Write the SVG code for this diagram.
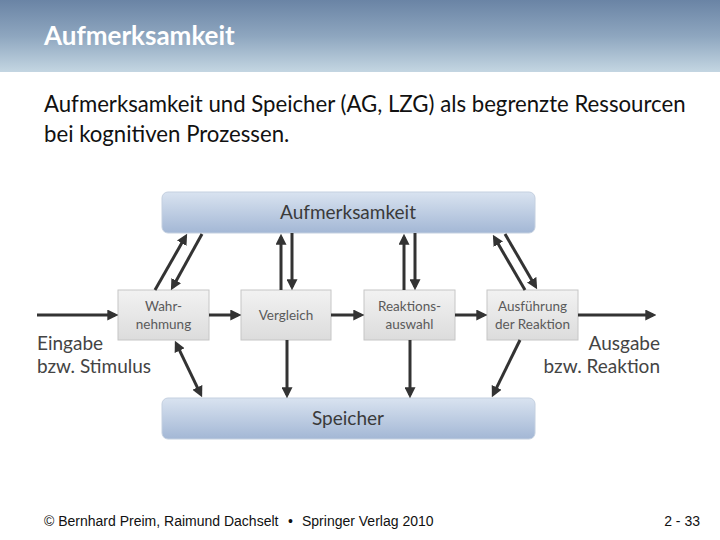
<svg xmlns="http://www.w3.org/2000/svg" width="720" height="540" viewBox="0 0 720 540">
<defs>
<linearGradient id="hdr" x1="0" y1="0" x2="0" y2="1">
<stop offset="0" stop-color="#6a84a5"/>
<stop offset="0.5" stop-color="#8ea6bf"/>
<stop offset="1" stop-color="#c4d6e2"/>
</linearGradient>
<linearGradient id="bigbox" x1="0" y1="0" x2="0" y2="1">
<stop offset="0" stop-color="#d9e3f0"/>
<stop offset="1" stop-color="#a3b7d5"/>
</linearGradient>
<linearGradient id="smallbox" x1="0" y1="0" x2="0" y2="1">
<stop offset="0" stop-color="#f2f2f2"/>
<stop offset="1" stop-color="#dcdcdc"/>
</linearGradient>
<marker id="ah" viewBox="0 0 10 10" refX="7" refY="5" markerWidth="11" markerHeight="11" markerUnits="userSpaceOnUse" orient="auto-start-reverse">
<path d="M0,0 L10,5 L0,10 z" fill="#333"/>
</marker>
</defs>
<style>
.title{font-family:Lato,"Open Sans",sans-serif;font-size:26px;font-weight:bold;fill:#fff}
.body{font-family:Lato,"Open Sans",sans-serif;font-size:22.2px;fill:#111}
.big{fill:url(#bigbox);stroke:#c4d0e0;stroke-width:1}
.bigt{font-family:Lato,"Open Sans",sans-serif;font-size:19px;fill:#3a3a3a;text-anchor:middle}
.sm{fill:url(#smallbox);stroke:#c6c6c6;stroke-width:1}
.smt{font-family:Lato,"Open Sans",sans-serif;font-size:13.5px;fill:#5a5a5a;text-anchor:middle}
.lbl{font-family:Lato,"Open Sans",sans-serif;font-size:19px;fill:#444}
.foot{font-family:"Liberation Sans",Arial,sans-serif;font-size:14px;fill:#111}
.c{stroke:#333;stroke-width:3;fill:none;marker-end:url(#ah)}
.cb{stroke:#333;stroke-width:3;fill:none;marker-end:url(#ah);marker-start:url(#ah)}
</style>
<rect x="0" y="0" width="720" height="72" fill="url(#hdr)"/>
<text class="title" x="44" y="45">Aufmerksamkeit</text>
<text class="body" x="44" y="112">Aufmerksamkeit und Speicher (AG, LZG) als begrenzte Ressourcen</text>
<text class="body" x="44" y="142">bei kognitiven Prozessen.</text>

<g id="aufmerksamkeit">
<rect class="big" x="162" y="192" width="373" height="41" rx="6"/>
<text class="bigt" x="348" y="219">Aufmerksamkeit</text>
</g>
<g id="speicher">
<rect class="big" x="162" y="398" width="373" height="41" rx="6"/>
<text class="bigt" x="348" y="425">Speicher</text>
</g>
<g id="wahrnehmung">
<rect class="sm" x="118" y="290" width="91" height="50"/>
<text class="smt" x="163.5" y="311">Wahr-</text>
<text class="smt" x="163.5" y="329">nehmung</text>
</g>
<g id="vergleich">
<rect class="sm" x="241" y="290" width="90" height="50"/>
<text class="smt" x="286" y="320">Vergleich</text>
</g>
<g id="reaktionsauswahl">
<rect class="sm" x="364" y="290" width="91" height="50"/>
<text class="smt" x="409.5" y="311">Reaktions-</text>
<text class="smt" x="409.5" y="329">auswahl</text>
</g>
<g id="ausfuehrung">
<rect class="sm" x="487" y="290" width="91" height="50"/>
<text class="smt" x="532.5" y="311">Ausführung</text>
<text class="smt" x="532.5" y="329">der Reaktion</text>
</g>
<g id="eingabe">
<text class="lbl" x="37" y="350">Eingabe</text>
<text class="lbl" x="37" y="373">bzw. Stimulus</text>
</g>
<g id="ausgabe">
<text class="lbl" x="660" y="350" text-anchor="end">Ausgabe</text>
<text class="lbl" x="660" y="373" text-anchor="end">bzw. Reaktion</text>
</g>

<g id="connectors">
<line class="c" x1="37" y1="315" x2="115" y2="315"/>
<line class="c" x1="209" y1="315" x2="238" y2="315"/>
<line class="c" x1="331" y1="315" x2="361" y2="315"/>
<line class="c" x1="455" y1="315" x2="484" y2="315"/>
<line class="c" x1="578" y1="315" x2="653" y2="315"/>

<line class="c" x1="155" y1="290" x2="185.5" y2="236.6"/>
<line class="c" x1="202" y1="234" x2="172.5" y2="287.4"/>
<line class="c" x1="281" y1="290" x2="281" y2="237"/>
<line class="c" x1="292" y1="233" x2="292" y2="287"/>
<line class="c" x1="404" y1="290" x2="404" y2="237"/>
<line class="c" x1="415" y1="233" x2="415" y2="287"/>
<line class="c" x1="525" y1="290" x2="494.5" y2="237.6"/>
<line class="c" x1="505" y1="234" x2="535.5" y2="286.4"/>

<line class="cb" x1="176.3" y1="343.7" x2="200.7" y2="394.3"/>
<line class="c" x1="287" y1="340" x2="287" y2="395"/>
<line class="c" x1="410" y1="340" x2="410" y2="395"/>
<line class="c" x1="520" y1="340" x2="493.3" y2="394.3"/>
</g>

<text class="foot" x="44" y="526">© Bernhard Preim, Raimund Dachselt<tspan x="288">•</tspan><tspan x="302">Springer Verlag 2010</tspan></text>
<text class="foot" x="700" y="526" text-anchor="end">2 - 33</text>
</svg>
